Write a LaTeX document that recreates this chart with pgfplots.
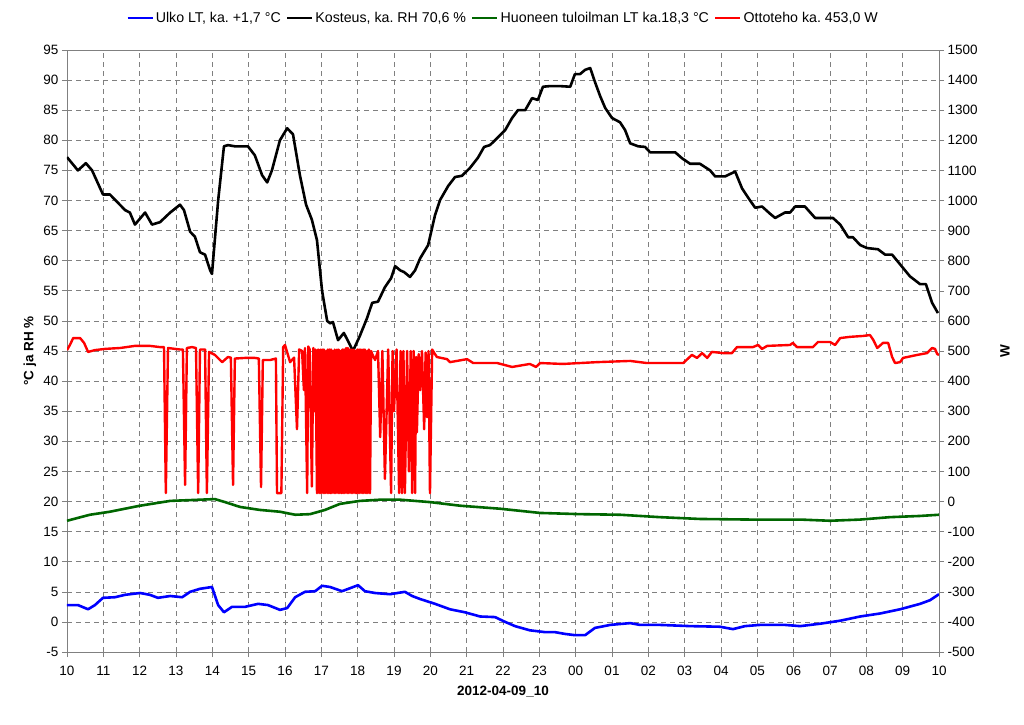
\documentclass[border=0pt]{standalone}
\usepackage{fontspec}
\setmainfont{Liberation Sans}
\usepackage{pgfplots}
\pgfplotsset{compat=1.18}
\frenchspacing

\pgfplotstableread{
h v
10.00 77.2
10.30 75
10.52 76.2
10.69 75
10.99 71
11.18 71
11.60 68.4
11.73 68
11.87 66
12.15 68
12.34 66
12.56 66.4
12.84 68
13.11 69.3
13.22 68.4
13.39 64.8
13.52 64
13.66 61.4
13.80 61
13.94 58.4
13.99 57.8
14.16 70
14.32 79
14.43 79.2
14.62 79
14.98 79
15.17 77.5
15.37 74.2
15.51 73
15.64 75
15.86 80
16.06 82
16.22 81
16.41 74.2
16.58 69.3
16.74 66.8
16.88 63.4
17.02 55
17.16 50
17.24 49.6
17.32 49.8
17.46 46.8
17.62 48
17.79 46
17.87 45
18.06 47.5
18.26 50.5
18.40 53
18.56 53.2
18.75 55.6
18.92 57.1
19.03 59.1
19.17 58.4
19.28 58.1
19.44 57.3
19.58 58.4
19.72 60.4
19.94 62.6
20.13 67.6
20.27 70.1
20.49 72.4
20.68 73.9
20.87 74.1
21.09 75.4
21.31 77.1
21.48 78.9
21.64 79.2
21.78 80
22.06 81.7
22.25 83.7
22.41 85
22.61 85
22.80 87
22.96 86.7
23.10 88.9
23.29 89
23.57 89
23.85 88.9
23.98 91
24.12 91
24.26 91.7
24.40 92
24.53 89.7
24.67 87.4
24.81 85.4
25.00 83.7
25.22 83
25.36 81.7
25.50 79.5
25.72 79
25.91 78.9
26.05 78
26.32 78
26.74 78
26.93 77
27.15 76.1
27.42 76.1
27.70 75
27.84 74
28.11 74
28.39 74.8
28.58 72
28.80 70
28.94 68.8
29.13 69
29.35 67.8
29.49 67.1
29.76 68
29.90 68
30.04 69
30.31 69
30.59 67.1
31.08 67.1
31.28 66
31.50 63.9
31.63 63.9
31.83 62.6
32.02 62.1
32.32 61.9
32.52 61
32.71 61
33.20 57.4
33.48 56.1
33.64 56.1
33.81 53
33.97 51.3
}\kosteus

\pgfplotstableread{
h v
10.00 16.8
10.63 17.8
11.18 18.3
12.01 19.3
12.84 20.1
13.66 20.3
14.07 20.4
14.35 19.9
14.76 19.1
15.31 18.6
15.86 18.3
16.28 17.8
16.69 17.9
17.10 18.6
17.51 19.6
18.06 20.1
18.62 20.3
19.17 20.3
19.99 19.9
20.82 19.3
21.92 18.8
23.02 18.1
24.12 17.9
25.22 17.8
26.32 17.4
27.42 17.1
28.80 17.0
30.18 17.0
31.00 16.8
31.83 17.0
32.65 17.4
33.48 17.6
34.00 17.8
}\tuloilma

\pgfplotstableread{
h v
10.00 2.8
10.30 2.8
10.58 2.1
10.77 2.8
10.99 4.0
11.32 4.1
11.60 4.5
12.01 4.8
12.28 4.5
12.50 4.0
12.84 4.3
13.17 4.1
13.39 5.0
13.66 5.5
13.99 5.8
14.16 2.8
14.32 1.6
14.54 2.5
14.90 2.5
15.26 3.0
15.53 2.8
15.86 2.0
16.06 2.3
16.28 4.1
16.55 5.0
16.83 5.1
17.02 6.0
17.24 5.8
17.57 5.1
17.79 5.6
18.01 6.1
18.20 5.1
18.48 4.8
18.89 4.6
19.30 5.0
19.50 4.3
19.72 3.8
20.13 3.0
20.54 2.1
20.95 1.6
21.37 0.9
21.78 0.8
22.06 0.0
22.33 -0.7
22.74 -1.4
23.16 -1.7
23.43 -1.7
23.71 -2.0
23.98 -2.2
24.26 -2.2
24.53 -1.0
24.95 -0.5
25.50 -0.2
25.77 -0.5
26.32 -0.5
27.15 -0.7
27.97 -0.8
28.33 -1.2
28.66 -0.7
29.07 -0.5
29.76 -0.5
30.18 -0.7
30.73 -0.3
31.28 0.2
31.83 0.9
32.38 1.4
32.93 2.1
33.48 3.0
33.75 3.6
34.00 4.6
}\ulko

\pgfplotstableread{
h w
10.00 503
10.08 520
10.17 543
10.36 543
10.47 527
10.58 497
10.77 503
11.05 507
11.46 510
11.87 517
12.28 517
12.56 513
12.67 513
12.72 28
12.78 510
13.11 505
13.19 505
13.25 55
13.30 510
13.44 513
13.55 510
13.61 28
13.66 505
13.80 505
13.85 28
13.91 497
14.07 487
14.27 463
14.43 480
14.51 478
14.57 55
14.62 475
14.90 477
15.17 477
15.28 475
15.34 48
15.39 470
15.59 470
15.75 475
15.78 28
15.90 28
15.95 513
16.00 520
16.14 463
16.25 478
16.33 240
16.39 505
16.47 500
16.52 370
16.55 510
16.61 28
16.64 515
16.68 505
16.74 50
16.78 510
16.81 300
16.84 505
16.88 28
16.91 505
16.94 28
16.97 505
16.99 28
17.02 505
17.05 28
17.07 505
17.10 28
17.13 500
17.16 28
17.18 505
17.21 28
17.23 505
17.25 28
17.27 505
17.29 28
17.32 500
17.35 28
17.37 505
17.40 28
17.43 505
17.46 28
17.48 505
17.51 28
17.53 500
17.56 28
17.58 505
17.60 28
17.62 505
17.65 28
17.68 510
17.71 28
17.73 510
17.76 28
17.79 505
17.82 28
17.84 505
17.87 28
17.90 505
17.93 28
17.95 500
17.97 28
17.99 505
18.01 28
18.04 505
18.06 28
18.09 505
18.12 28
18.15 505
18.17 28
18.20 505
18.23 28
18.26 500
18.28 28
18.31 505
18.34 28
18.37 500
18.40 490
18.48 470
18.56 500
18.62 214
18.68 500
18.75 75
18.84 505
18.92 28
18.96 500
19.00 300
19.07 505
19.14 28
19.18 500
19.22 28
19.26 500
19.30 28
19.36 500
19.41 100
19.46 500
19.50 28
19.54 500
19.58 28
19.61 480
19.63 230
19.68 490
19.72 370
19.77 500
19.83 240
19.87 495
19.91 280
19.95 500
19.99 28
20.05 505
20.10 495
20.18 480
20.46 473
20.54 463
21.01 473
21.18 460
21.84 460
22.25 447
22.74 457
22.91 447
23.02 460
23.65 457
24.59 463
25.50 467
25.96 460
26.40 460
26.96 460
27.20 487
27.34 477
27.48 493
27.62 477
27.75 497
28.06 493
28.30 493
28.44 513
28.88 513
29.02 520
29.13 507
29.27 517
29.90 520
29.98 527
30.09 513
30.53 513
30.67 530
31.00 530
31.14 520
31.28 543
31.55 547
31.91 550
32.10 553
32.19 537
32.30 510
32.46 527
32.60 527
32.71 480
32.79 460
32.93 463
33.01 477
33.40 487
33.67 493
33.81 510
33.89 507
33.95 490
34.00 487
}\ottoteho

\begin{document}
\begin{tikzpicture}
\path[use as bounding box] (-67pt,-72pt) rectangle (957pt,652pt);
\pgfplotsset{
  base/.style={
    width=872pt, height=602pt, scale only axis,
    at={(0pt,0pt)}, anchor=south west,
    xmin=10, xmax=34,
    /pgf/number format/assume math mode=true,
    /pgf/number format/1000 sep={},
    tick label style={font=\fontsize{13.5}{15}\selectfont},
    tick align=outside, major tick length=5pt,
    tick style={gray, line width=0.6pt},
    axis line style={gray, line width=0.8pt},
  }
}
\begin{axis}[base,
  tick pos=left,
  ymin=-5, ymax=95, ytick={-5,0,...,95},
  xtick={10,...,34},
  xticklabels={10,11,12,13,14,15,16,17,18,19,20,21,22,23,00,01,02,03,04,05,06,07,08,09,10},
  xticklabel style={yshift=-6pt},
  grid=major,
  major grid style={gray, dash pattern=on 5pt off 4pt, line width=0.6pt},
  xlabel={2012-04-09\_10},
  ylabel={°C ja RH \%},
  every axis x label/.style={at={(axis description cs:0.5,0)}, yshift=-40pt, anchor=center, font=\fontsize{13.5}{15}\selectfont\bfseries},
  every axis y label/.style={at={(axis description cs:0,0.5)}, xshift=-37pt, rotate=90, anchor=center, font=\fontsize{13.5}{15}\selectfont\bfseries},
  legend style={at={(0.5,1)}, anchor=center, yshift=32pt, draw=none, fill=none,
    font=\fontsize{14.2}{16}\selectfont, legend columns=4,
    /tikz/every even column/.append style={column sep=3pt}},
  legend image code/.code={\draw[#1] (0pt,0pt) -- (25pt,0pt);},
]
\addplot[blue, line width=2.6pt, line join=round] table[x=h, y=v] {\ulko};
\addlegendentry{Ulko LT, ka. +1,7 °C}
\addplot[black, line width=2.6pt, line join=round] table[x=h, y=v] {\kosteus};
\addlegendentry{Kosteus, ka. RH 70,6 \%}
\addplot[green!40!black, line width=2.6pt, line join=round] table[x=h, y=v] {\tuloilma};
\addlegendentry{Huoneen tuloilman LT ka.18,3 °C}
\addlegendimage{red, line width=2.6pt}
\addlegendentry{Ottoteho ka. 453,0 W}
\end{axis}
\begin{axis}[base,
  ymin=-500, ymax=1500, ytick={-500,-400,...,1500},
  axis x line=none, axis y line*=right, ytick pos=right,
  ylabel={W},
  every axis y label/.style={at={(axis description cs:1,0.5)}, xshift=66pt, rotate=90, anchor=center, font=\fontsize{13.5}{15}\selectfont\bfseries},
]
\addplot[red, line width=2.4pt, line join=round] table[x=h, y=w] {\ottoteho};
\end{axis}
\end{tikzpicture}
\end{document}
